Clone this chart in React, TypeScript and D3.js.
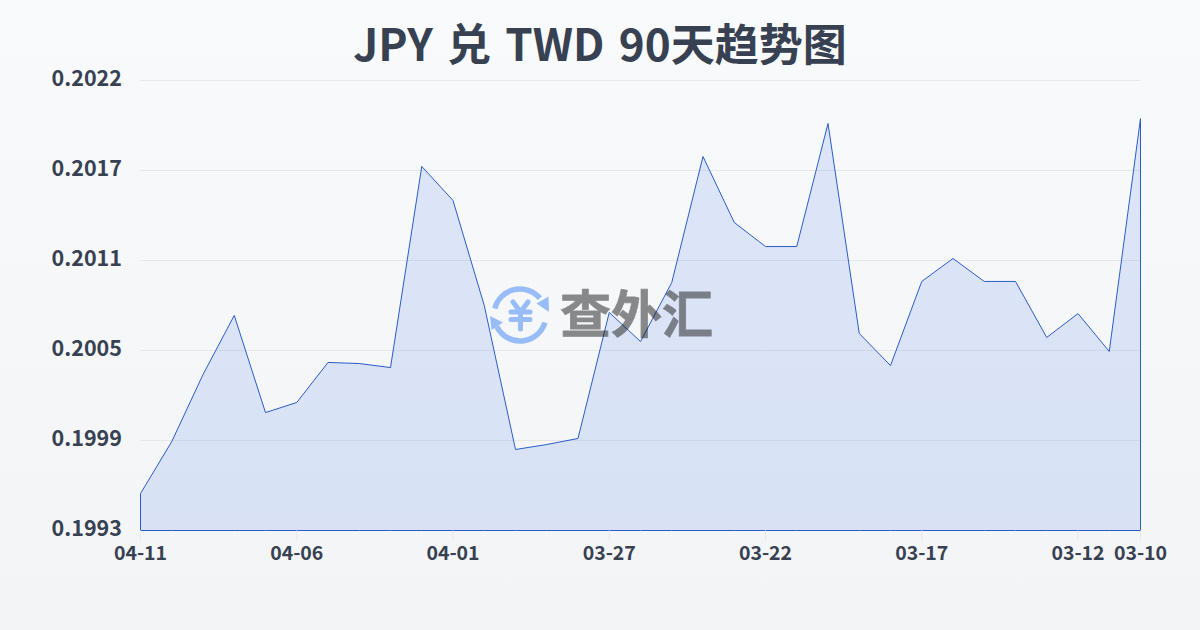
import React from "react";
import * as d3 from "d3";

const dates = ["04-11","04-10","04-09","04-08","04-07","04-06","04-05","04-04","04-03","04-02","04-01","03-31","03-30","03-29","03-28","03-27","03-26","03-25","03-24","03-23","03-22","03-21","03-20","03-19","03-18","03-17","03-16","03-15","03-14","03-13","03-12","03-11","03-10"];
const rates = [0.199538,0.199873,0.200305,0.200686,0.20006,0.200125,0.200383,0.200376,0.20035,0.201646,0.201427,0.20075,0.199822,0.199854,0.199893,0.200705,0.200518,0.200898,0.20171,0.201285,0.20113,0.20113,0.201923,0.20057,0.200363,0.200905,0.201053,0.200905,0.200905,0.200544,0.200698,0.200454,0.201955];
const yLabels = ["0.1993","0.1999","0.2005","0.2011","0.2017","0.2022"];
const xLabels = ["04-11","04-06","04-01","03-27","03-22","03-17","03-12","03-10"];
const yDomain = [0.1993, 0.2022];
const title = "JPY 兑 TWD 90天趋势图";
const brand = "查外汇";

const W = 1200, H = 630;
const L = 140.5, R = 1140.5, T = 80.5, B = 530.5;
const FONT = "'Noto Sans CJK SC','Noto Sans',sans-serif";
const INK = "#374151";

export default function App() {
  const x = d3.scalePoint<string>().domain(dates).range([L, R]);
  const y = d3.scaleLinear().domain(yDomain).range([B, T]);
  const grid = d3.scaleLinear().domain([0, yLabels.length - 1]).range([B, T]);
  const area = d3.area<number>()
    .x((_, i) => x(dates[i]) as number)
    .y0(B)
    .y1((d) => y(d));
  const path = area(rates) as string;
  const ic = 26;
  return (
    <svg width={W} height={H} viewBox={`0 0 ${W} ${H}`} style={{ position: "fixed", left: 0, top: 0, display: "block" }}>
      <defs>
        <linearGradient id="bg" x1="0" y1="0" x2="0" y2="1">
          <stop offset="0" stopColor="#f8fafc" />
          <stop offset="1" stopColor="#f3f4f6" />
        </linearGradient>
      </defs>
      <rect width={W} height={H} fill="url(#bg)" />
      <text x={600} y={61} textAnchor="middle" fontFamily={FONT} fontWeight={700} fontSize={44} wordSpacing={4.3} fill={INK}>{title}</text>

      {yLabels.map((t, i) => (
        <g key={t}>
          <line x1={L} x2={R} y1={grid(i)} y2={grid(i)} stroke="#e5e7eb" strokeWidth={1} />
          <text x={122} y={grid(i) + 5.5} textAnchor="end" fontFamily={FONT} fontWeight={700} fontSize={21.5} fill={INK}>{t}</text>
        </g>
      ))}

      <path d={path + "Z"} fill="#2563eb" fillOpacity={0.13} stroke="none" />
      <path d={path + "Z"} fill="none" stroke="#2a5cc8" strokeWidth={1} />

      <g transform="translate(520,315)" opacity={0.5}>
        <g fill="none" stroke="#3b82f6" strokeWidth={5.5} strokeLinecap="round">
          <path d={d3.arc()({ innerRadius: ic, outerRadius: ic, startAngle: -1.32, endAngle: 0.87 }) as string} />
          <path d={d3.arc()({ innerRadius: ic, outerRadius: ic, startAngle: 1.86, endAngle: 4.25 }) as string} />
          <path d="M-7,-13 L0.5,-3 L8,-13 M0.5,-3 V14 M-9,-3 H10 M-9,4.5 H10" strokeWidth={5} />
        </g>
        <path d="M28.5,-18.5 L29,-3 L16.5,-11.5 Z" fill="#3b82f6" />
        <path d="M-30,1 L-28.5,15 L-17,7.5 Z" fill="#3b82f6" />
      </g>
      <text x={560} y={333} fontFamily={FONT} fontWeight={700} fontSize={51} fill="#111" stroke="#111" strokeWidth={0.8} opacity={0.48}>{brand}</text>

      {xLabels.map((t) => (
        <g key={t}>
          <line x1={x(t)} x2={x(t)} y1={B} y2={B + 10} stroke="#e5e7eb" strokeWidth={1} />
          <text x={x(t)} y={560} textAnchor="middle" fontFamily={FONT} fontWeight={700} fontSize={19.5} fill={INK}>{t}</text>
        </g>
      ))}
    </svg>
  );
}
